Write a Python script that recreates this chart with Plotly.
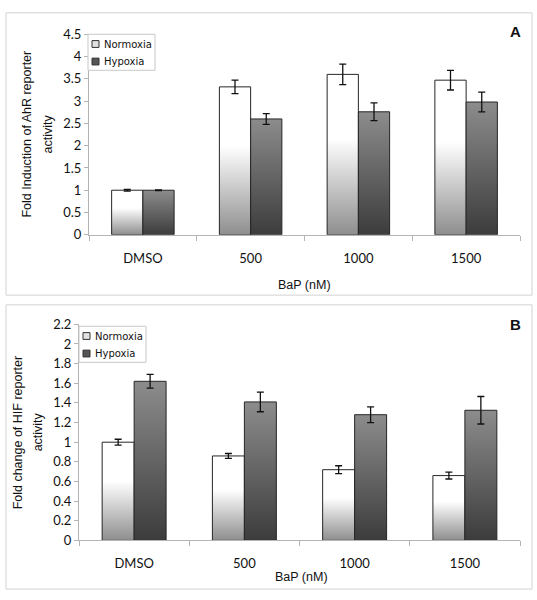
import plotly.graph_objects as go

# ---------------- data ----------------
categories = ["DMSO", "500", "1000", "1500"]
series_names = ["Normoxia", "Hypoxia"]

a_normoxia = [1.00, 3.32, 3.60, 3.47]
a_normoxia_err = [0.02, 0.15, 0.23, 0.22]
a_hypoxia = [1.00, 2.60, 2.76, 2.98]
a_hypoxia_err = [0.01, 0.12, 0.20, 0.22]

b_normoxia = [1.00, 0.86, 0.72, 0.66]
b_normoxia_err = [0.03, 0.025, 0.04, 0.035]
b_hypoxia = [1.62, 1.41, 1.28, 1.325]
b_hypoxia_err = [0.07, 0.10, 0.08, 0.14]

a_ytick_vals = [0, 0.5, 1, 1.5, 2, 2.5, 3, 3.5, 4, 4.5]
a_ytick_text = ["0", "0.5", "1", "1.5", "2", "2.5", "3", "3.5", "4", "4.5"]
b_ytick_vals = [0, 0.2, 0.4, 0.6, 0.8, 1.0, 1.2, 1.4, 1.6, 1.8, 2.0, 2.2]
b_ytick_text = ["0", "0.2", "0.4", "0.6", "0.8", "1", "1.2", "1.4", "1.6", "1.8", "2", "2.2"]

a_ytitle = ["Fold Induction of AhR reporter", "activity"]
b_ytitle = ["Fold change of HIF reporter", "activity"]
xtitle = "BaP (nM)"
panel_letters = ["A", "B"]

# ---------------- style ----------------
W, H = 537, 600
BAR_W = 0.29
grad_norm = [[0, "#8e8e8e"], [0.6, "#ffffff"], [1, "#ffffff"]]
grad_hyp = [[0, "#3c3c3c"], [1, "#8c8c8c"]]
legend_colors = ["#e2e2e2", "#555555"]
AXIS_C = "#b4b4b4"
TICK_FONT = dict(family="Lato, Open Sans, sans-serif", size=13, color="#111111")
TITLE_FONT = dict(family="Liberation Sans, Arial, sans-serif", size=12.5, color="#111111")
LEG_FONT = dict(family="DejaVu Sans, Verdana, sans-serif", size=10, color="#111111")


def px(x):
    return x / W


def py(y):
    return 1 - y / H


fig = go.Figure()

panels = [
    dict(x="x", y="y", vals=[a_normoxia, a_hypoxia], errs=[a_normoxia_err, a_hypoxia_err]),
    dict(x="x2", y="y2", vals=[b_normoxia, b_hypoxia], errs=[b_normoxia_err, b_hypoxia_err]),
]
grads = [grad_norm, grad_hyp]
offsets = [-BAR_W / 2, BAR_W / 2]

for p in panels:
    for s in range(2):
        vals, errs = p["vals"][s], p["errs"][s]
        # bars drawn as gradient-filled polygons in data coordinates
        for i, v in enumerate(vals):
            xc = i + offsets[s]
            x0, x1 = xc - BAR_W / 2, xc + BAR_W / 2
            fig.add_trace(go.Scatter(
                x=[x0, x0, x1, x1, x0], y=[0, v, v, 0, 0],
                xaxis=p["x"], yaxis=p["y"],
                mode="lines", fill="toself",
                fillgradient=dict(type="vertical", colorscale=grads[s]),
                line=dict(color="#262626", width=1),
                name=series_names[s], showlegend=False, hoverinfo="skip",
            ))
        # error bars
        fig.add_trace(go.Scatter(
            x=[i + offsets[s] for i in range(len(vals))], y=vals,
            xaxis=p["x"], yaxis=p["y"], mode="markers",
            marker=dict(size=1, color="rgba(0,0,0,0)"),
            error_y=dict(type="data", array=errs, color="#111111", thickness=1.3, width=3.5),
            name=series_names[s], showlegend=False, hoverinfo="skip",
        ))


def xaxis_cfg(d0, d1, anchor, standoff):
    return dict(domain=[d0, d1], anchor=anchor, range=[-0.5, 3.5],
                tickmode="array", tickvals=list(range(len(categories))), ticktext=categories,
                ticks="", showgrid=False, zeroline=False, showline=True,
                linecolor=AXIS_C, linewidth=1, tickfont=TICK_FONT, ticklabelstandoff=standoff,
                minor=dict(tick0=0.5, dtick=1, ticks="outside", ticklen=5,
                           tickcolor=AXIS_C, tickwidth=1, showgrid=False))


def yaxis_cfg(d0, d1, anchor, rng, tv, tt):
    return dict(domain=[d0, d1], anchor=anchor, range=rng,
                tickmode="array", tickvals=tv, ticktext=tt,
                ticks="outside", ticklen=4, tickcolor=AXIS_C, tickwidth=1,
                showgrid=False, zeroline=False, showline=True,
                linecolor=AXIS_C, linewidth=1, tickfont=TICK_FONT)


fig.update_layout(
    width=W, height=H, autosize=False,
    margin=dict(l=0, r=0, t=0, b=0),
    paper_bgcolor="white", plot_bgcolor="white",
    showlegend=False,
    xaxis=xaxis_cfg(px(89), px(520), "y", 12),
    yaxis=yaxis_cfg(py(233), py(27), "x", [0, 4.5], a_ytick_vals, a_ytick_text),
    xaxis2=xaxis_cfg(px(79), px(520), "y2", 11),
    yaxis2=yaxis_cfg(py(547), py(325), "x2", [0, 2.2], b_ytick_vals, b_ytick_text),
)

# panel frames
for top, bot in [(5, 295), (305, 597)]:
    fig.add_shape(type="rect", xref="paper", yref="paper",
                  x0=px(6), x1=px(532), y0=py(bot), y1=py(top),
                  line=dict(color="#d2d2d2", width=1), fillcolor="rgba(0,0,0,0)", layer="below")

# legends (box, swatches, labels) for each panel
legend_boxes = [(88, 27, 155, 64), (79, 327, 146, 364)]
for (lx0, ly0, lx1, ly1) in legend_boxes:
    fig.add_shape(type="rect", xref="paper", yref="paper",
                  x0=px(lx0), x1=px(lx1), y0=py(ly1), y1=py(ly0),
                  line=dict(color="#c8c8c8", width=1), fillcolor="white")
    for k, name in enumerate(series_names):
        cy = ly0 + 10 + 18 * k
        fig.add_shape(type="rect", xref="paper", yref="paper",
                      x0=px(lx0 + 4), x1=px(lx0 + 11), y0=py(cy + 3.5), y1=py(cy - 3.5),
                      line=dict(color="#333333", width=1), fillcolor=legend_colors[k])
        fig.add_annotation(xref="paper", yref="paper", x=px(lx0 + 14), y=py(cy),
                           text=name, showarrow=False, xanchor="left", yanchor="middle",
                           font=LEG_FONT)

ann = []
# y titles (two lines each, drawn separately for wider line spacing)
ann.append(dict(text=a_ytitle[0], x=px(27), y=py(130), textangle=-90, font=TITLE_FONT))
ann.append(dict(text=a_ytitle[1], x=px(48), y=py(130), textangle=-90, font=TITLE_FONT))
ann.append(dict(text=b_ytitle[0], x=px(18), y=py(436), textangle=-90, font=TITLE_FONT))
ann.append(dict(text=b_ytitle[1], x=px(38), y=py(436), textangle=-90, font=TITLE_FONT))
# x titles
ann.append(dict(text=xtitle, x=px(304.5), y=py(285), font=TITLE_FONT))
ann.append(dict(text=xtitle, x=px(301), y=py(585), font=TITLE_FONT))
# panel letters
bold = dict(family="Liberation Sans, Arial, sans-serif", size=15, color="#111111")
ann.append(dict(text="<b>%s</b>" % panel_letters[0], x=px(515), y=py(24), font=bold))
ann.append(dict(text="<b>%s</b>" % panel_letters[1], x=px(515), y=py(325), font=bold))
for a in ann:
    fig.add_annotation(xref="paper", yref="paper", showarrow=False,
                       xanchor="center", yanchor="middle", **a)

fig.write_html("out.html", config={"displayModeBar": False},
               post_script="document.body.style.margin='0px';")
